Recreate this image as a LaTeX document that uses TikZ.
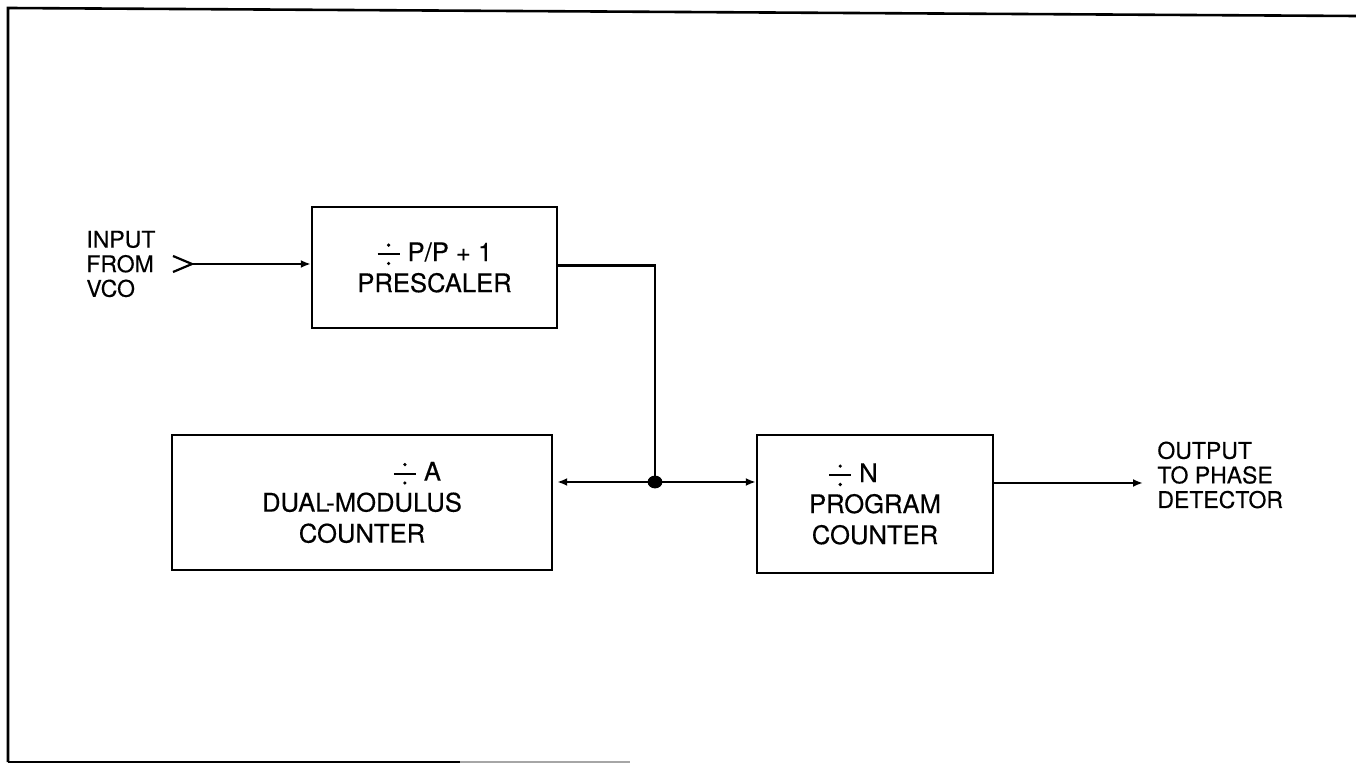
\documentclass[tikz,border=0pt]{standalone}
\usepackage{fontspec}
\setmainfont{TeX Gyre Heros}[FakeBold=0.35]
\usetikzlibrary{arrows.meta}
\newcommand{\dvsign}{\tikz[baseline=-3.4pt]{\draw[line width=0.9pt] (0pt,0pt) -- (11pt,0pt);
  \fill (5.5pt,4.6pt) circle[radius=0.9pt]; \fill (5.5pt,-4.6pt) circle[radius=0.9pt];}}

\begin{document}
\begin{tikzpicture}[x=0.5pt,y=-0.5pt,
  box/.style={draw,line width=1.2pt,align=center,inner sep=0pt,font=\fontsize{12.8}{15.5}\selectfont},
  lbl/.style={align=left,anchor=west,inner sep=0pt,font=\fontsize{11.5}{12.3}\selectfont},
  wire/.style={line width=1.1pt},
  arr/.style={wire,-{Latex[length=5pt,width=4pt]}}
]
\useasboundingbox (0,0) rectangle (1356,764);
% frame
\draw[line width=1.3pt] (8,762) -- (8,8) -- (1356,16);
\draw[line width=1.3pt] (8,762) -- (460,762);
\draw[line width=1.3pt,black!35] (460,762) -- (630,762);

\node[box,minimum width=122.5pt,minimum height=60.5pt] (pre) at (434.5,267.5) {\dvsign\ P/P + 1\\PRESCALER};
\node[box,minimum width=190pt,minimum height=67.5pt] (dual) at (362,502.5) {\hspace*{55pt}\dvsign\ A\\DUAL-MODULUS\\COUNTER};
\node[box,minimum width=118pt,minimum height=69pt] (prog) at (875,504) {\dvsign\ N\hspace*{22pt}\\PROGRAM\\COUNTER};

\node[lbl] (vco) at (86,264) {INPUT\\FROM\\VCO};
\node[lbl] (pd) at (1157,475) {OUTPUT\\TO PHASE\\DETECTOR};

% input chevron
\coordinate (vin) at (192,264);
\draw[wire] (173,256) -- (vin) -- (173,272);
\draw[arr] (vin) -- (vin -| pre.west);

% junction
\coordinate (jn) at (655,482);
\draw[wire] ([yshift=1pt]pre.east) -| (jn);
\draw[arr,shorten >=2pt] (jn) -- (jn -| dual.east);
\draw[arr] (jn) -- (jn -| prog.west);
\fill (jn) circle[x radius=3.7pt,y radius=3.2pt];

% output
\coordinate (out) at (1143,483);
\draw[arr] (out -| prog.east) -- (out);
\end{tikzpicture}
\end{document}
